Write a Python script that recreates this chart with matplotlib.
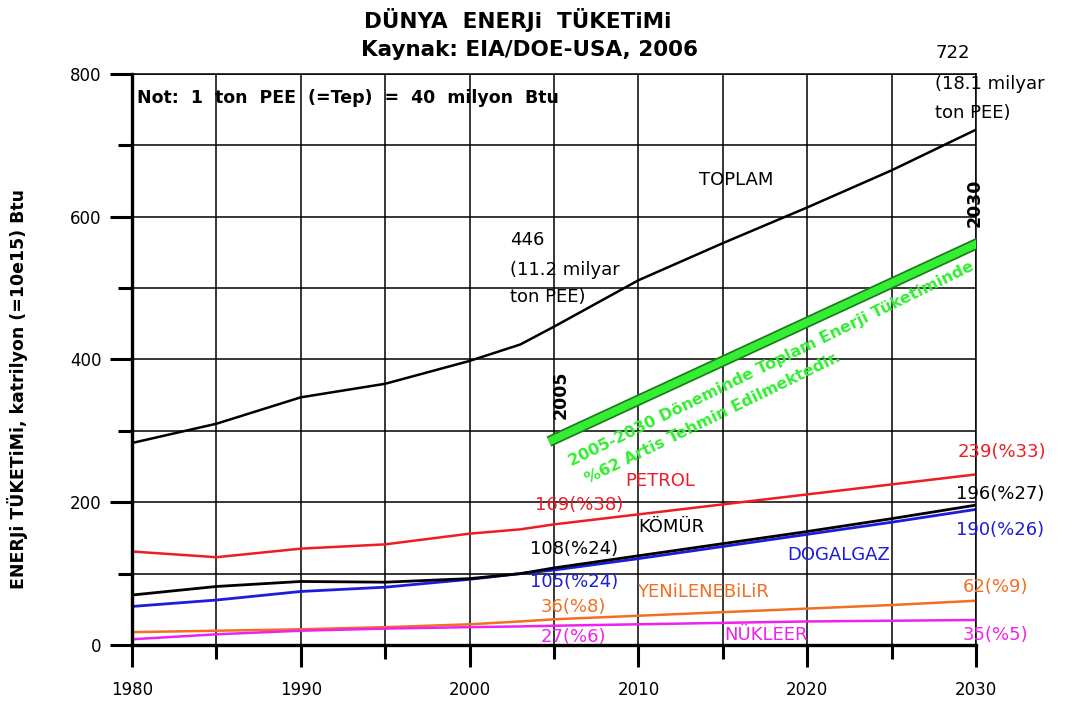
import numpy as np
import matplotlib
matplotlib.use("Agg")
import matplotlib.pyplot as plt
import matplotlib.patheffects as pe
from matplotlib.ticker import MultipleLocator

plt.rcParams['font.family'] = ['DejaVu Sans']

# data (katrilyon Btu)
yillar = [1980, 1985, 1990, 1995, 2000, 2003, 2005, 2010, 2015, 2020, 2025, 2030]
toplam = [283, 310, 347, 366, 398, 421, 446, 511, 563, 613, 665, 722]
petrol = [131, 123, 135, 141, 156, 162, 169, 183, 197, 211, 225, 239]
komur = [70, 82, 89, 88, 93, 100, 108, 125, 142, 159, 177, 196]
dogalgaz = [54, 63, 75, 81, 92, 100, 105, 121, 138, 155, 172, 190]
yenilenebilir = [18, 20, 22, 25, 29, 33, 36, 41, 46, 51, 56, 62]
nukleer = [8, 15, 20, 23, 25, 26, 27, 29, 31, 33, 34, 35]

artis_yil = [2004.7, 2030.3]
artis_deger = [285, 565]

KIRMIZI = "#ee1c24"
MAVI = "#1c1cdc"
TURUNCU = "#f26f21"
PEMBE = "#ee22ee"
YESIL = "#33ee33"

fig = plt.figure(figsize=(10.83, 7.02), dpi=100)
ax = fig.add_axes([0.1219, 0.0812, 0.7793, 0.8134])

ax.plot(yillar, toplam, color="black", lw=1.8)
ax.plot(yillar, petrol, color=KIRMIZI, lw=1.8)
ax.plot(yillar, dogalgaz, color=MAVI, lw=2.0)
ax.plot(yillar, komur, color="black", lw=2.0)
ax.plot(yillar, yenilenebilir, color=TURUNCU, lw=1.8)
ax.plot(yillar, nukleer, color=PEMBE, lw=1.8)

ax.plot(artis_yil, artis_deger, color=YESIL, lw=5.5, solid_capstyle="butt",
        path_effects=[pe.Stroke(linewidth=8, foreground="#1e7a1e"), pe.Normal()], zorder=5)

ax.set_xlim(1980, 2030)
ax.set_ylim(0, 800)
ax.xaxis.set_major_locator(MultipleLocator(10))
ax.xaxis.set_minor_locator(MultipleLocator(5))
ax.yaxis.set_major_locator(MultipleLocator(200))
ax.yaxis.set_minor_locator(MultipleLocator(100))
ax.grid(True, which="both", color="black", lw=1.1)
ax.set_axisbelow(True)
ax.tick_params(which="major", length=16, width=2.2, labelsize=12, pad=6)
ax.tick_params(axis="x", which="major", pad=10)
ax.tick_params(which="minor", length=10, width=2.2)
for s in ["left", "bottom"]:
    ax.spines[s].set_linewidth(2.4)
for s in ["top", "right"]:
    ax.spines[s].set_linewidth(1.1)

fig.text(0.478, 0.9715, "DÜNYA  ENERJi  TÜKETiMi", ha="center", va="center",
         fontsize=15.5, fontweight="bold")
fig.text(0.489, 0.929, "Kaynak: EIA/DOE-USA, 2006", ha="center", va="center",
         fontsize=15.5, fontweight="bold")
fig.text(0.0166, 0.446, "ENERJi TÜKETiMi, katrilyon (=10e15) Btu", rotation=90,
         ha="center", va="center", fontsize=12.5, fontweight="bold")

ax.text(1980.3, 767, "Not:  1  ton  PEE  (=Tep)  =  40  milyon  Btu", fontsize=12.5,
        fontweight="bold", va="center")

etiketler = [
    ("722", 2027.6, 830, "black"),
    ("(18.1 milyar", 2027.6, 786, "black"),
    ("ton PEE)", 2027.6, 745, "black"),
    ("446", 2002.4, 567, "black"),
    ("(11.2 milyar", 2002.4, 525, "black"),
    ("ton PEE)", 2002.4, 487, "black"),
    ("TOPLAM", 2013.6, 651, "black"),
    ("PETROL", 2009.2, 230, KIRMIZI),
    ("169(%38)", 2003.9, 196, KIRMIZI),
    ("KÖMÜR", 2010.0, 165, "black"),
    ("108(%24)", 2003.6, 134, "black"),
    ("105(%24)", 2003.6, 88, MAVI),
    ("YENiLENEBiLiR", 2009.9, 74, TURUNCU),
    ("36(%8)", 2004.2, 53, TURUNCU),
    ("27(%6)", 2004.2, 11, PEMBE),
    ("NÜKLEER", 2015.1, 14, PEMBE),
    ("DOGALGAZ", 2018.8, 126, MAVI),
    ("239(%33)", 2028.9, 270, KIRMIZI),
    ("196(%27)", 2028.8, 211, "black"),
    ("190(%26)", 2028.8, 161, MAVI),
    ("62(%9)", 2029.2, 81, TURUNCU),
    ("35(%5)", 2029.2, 14, PEMBE),
]
for metin, x, y, renk in etiketler:
    ax.text(x, y, metin, color=renk, fontsize=13, va="center", ha="left",
            clip_on=False, zorder=6)

ax.text(2005.4, 350, "2005", rotation=90, fontsize=12.5, fontweight="bold",
        ha="center", va="center", zorder=6)
ax.text(2029.9, 619, "2030", rotation=90, fontsize=12.5, fontweight="bold",
        ha="center", va="center", zorder=6)

ax.text(2017.9, 394, "2005-2030 Döneminde Toplam Enerji Tüketiminde", color=YESIL,
        rotation=26, rotation_mode="anchor", fontsize=11.5, fontweight="bold",
        ha="center", va="center", zorder=6)
ax.text(2014.4, 318, "%62 Artis Tehmin Edilmektedir.", color=YESIL,
        rotation=26, rotation_mode="anchor", fontsize=11.5, fontweight="bold",
        ha="center", va="center", zorder=6)

fig.savefig("out.png", dpi=100)
